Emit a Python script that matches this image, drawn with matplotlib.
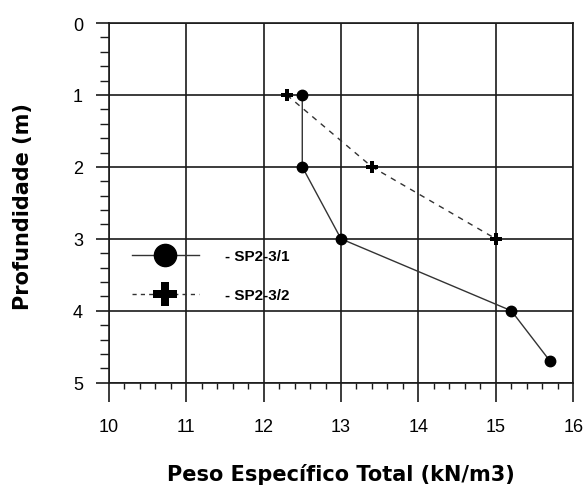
import matplotlib
matplotlib.use("Agg")
import matplotlib.pyplot as plt
from matplotlib.ticker import MultipleLocator
from matplotlib.lines import Line2D

plt.rcParams['font.family'] = ['Liberation Sans', 'DejaVu Sans']

# Data
sp1_peso = [12.5, 12.5, 13.0, 15.2, 15.7]
sp1_prof = [1.0, 2.0, 3.0, 4.0, 4.7]
sp2_peso = [12.3, 13.4, 15.0]
sp2_prof = [1.0, 2.0, 3.0]
labels = ["- SP2-3/1", "- SP2-3/2"]
x_ticks = [10, 11, 12, 13, 14, 15, 16]
y_ticks = [0, 1, 2, 3, 4, 5]

fig = plt.figure(figsize=(5.86, 4.89), dpi=100)
ax = fig.add_axes([0.1855, 0.2153, 0.9783 - 0.1855, 0.9509 - 0.2153])

lc = '#1a1a1a'
ax.plot(sp1_peso, sp1_prof, color='#333333', lw=1.0, marker='o', ms=7.5,
        mfc='black', mec='black', zorder=3)
ax.plot(sp2_peso, sp2_prof, color='#333333', lw=1.0, ls=(0, (4, 4)), marker='P', ms=8,
        mfc='black', mec='black', mew=0, zorder=3)

ax.set_xlim(10, 16)
ax.set_ylim(5, 0)
ax.set_xticks(x_ticks)
ax.set_yticks(y_ticks)
ax.xaxis.set_minor_locator(MultipleLocator(0.2))
ax.yaxis.set_minor_locator(MultipleLocator(0.2))
ax.grid(True, which='major', color=lc, lw=1.2)
ax.tick_params(axis='x', which='major', direction='out', length=14, width=1.2,
               color=lc, pad=11.5, labelsize=13)
ax.tick_params(axis='x', which='minor', direction='out', length=4.5, width=1.0, color=lc)
ax.tick_params(axis='y', which='major', direction='out', length=9.5, width=1.2,
               color=lc, pad=9, labelsize=13)
ax.tick_params(axis='y', which='minor', direction='out', length=6.5, width=1.0, color=lc)
for s in ax.spines.values():
    s.set_color(lc)
    s.set_linewidth(1.2)

lab_font = dict(family=['DejaVu Sans'], fontsize=15, fontweight='bold')
ax.set_xlabel("Peso Específico Total (kN/m3)", **lab_font)
ax.set_ylabel("Profundidade (m)", **lab_font)
ax.xaxis.set_label_coords(0.5, -0.223)
ax.yaxis.set_label_coords(-0.163, 0.493)

handles = [
    Line2D([], [], color='#333333', lw=1.0, marker='o', ms=16, mfc='black', mec='black'),
    Line2D([], [], color='#333333', lw=1.0, ls=(0, (3, 3)), marker='P', ms=17,
           mfc='black', mec='black', mew=0),
]
leg = ax.legend(handles, labels, loc='upper left', bbox_to_anchor=(0.02, 0.41),
                frameon=False, handlelength=4.4, handletextpad=1.7,
                labelspacing=1.66, prop={'weight': 'bold', 'size': 11})

fig.savefig("out.png", dpi=100)
